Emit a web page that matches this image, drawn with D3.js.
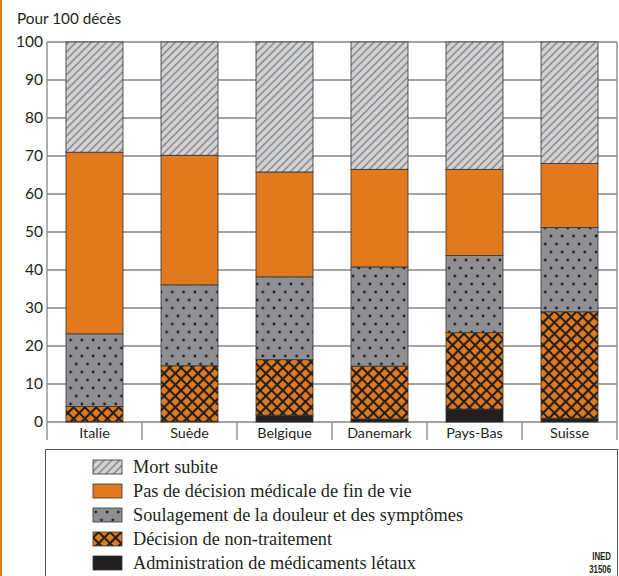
<!DOCTYPE html>
<html><head><meta charset="utf-8">
<script src="https://cdn.jsdelivr.net/npm/d3@7"></script>
<style>body{margin:0;background:#fff}svg{display:block}</style>
</head><body>
<svg id="c" width="619" height="576"></svg>
<script>
const countries = ["Italie","Suède","Belgique","Danemark","Pays-Bas","Suisse"];
const seriesNames = ["Administration de médicaments létaux","Décision de non-traitement","Soulagement de la douleur et des symptômes","Pas de décision médicale de fin de vie","Mort subite"];
const lethal   = [0.1, 0.2, 1.8, 0.8, 3.4, 1.0];
const nonTreat = [4.0, 14.6, 14.6, 13.9, 20.1, 28.0];
const painRelief = [19.1, 21.3, 21.8, 26.1, 20.3, 22.2];
const noDecision = [47.8, 34.1, 27.6, 25.7, 22.7, 16.8];
const sudden   = [29.0, 29.8, 34.2, 33.5, 33.5, 32.0];
const yTicks = [0,10,20,30,40,50,60,70,80,90,100];
const legendOrder = ["Mort subite","Pas de décision médicale de fin de vie","Soulagement de la douleur et des symptômes","Décision de non-traitement","Administration de médicaments létaux"];

const keys = ["lethal","nonTreat","painRelief","noDecision","sudden"];
const rows = countries.map((c,i)=>({country:c, lethal:lethal[i], nonTreat:nonTreat[i], painRelief:painRelief[i], noDecision:noDecision[i], sudden:sudden[i]}));
const keyByName = {}; seriesNames.forEach((n,i)=>keyByName[n]=keys[i]);

const svg = d3.select("#c");
const ORANGE = "#e07a1c", INK = "#231f20";
const defs = svg.append("defs");
// hatch
const ph = defs.append("pattern").attr("id","hatch").attr("patternUnits","userSpaceOnUse")
  .attr("width",5.4).attr("height",5.4).attr("patternTransform","rotate(45)");
ph.append("rect").attr("width",5.4).attr("height",5.4).attr("fill","#d2d3d5");
ph.append("line").attr("x1",2.7).attr("x2",2.7).attr("y1",0).attr("y2",5.4).attr("stroke","#3a3a3a").attr("stroke-width",0.75);
// dots
const pd = defs.append("pattern").attr("id","dots").attr("patternUnits","userSpaceOnUse")
  .attr("width",11.3).attr("height",16);
pd.append("rect").attr("width",11.3).attr("height",16).attr("fill","#8f9094");
pd.append("circle").attr("cx",2.8).attr("cy",4).attr("r",1.4).attr("fill",INK);
pd.append("circle").attr("cx",8.45).attr("cy",12).attr("r",1.4).attr("fill",INK);
// cross
const pc = defs.append("pattern").attr("id","cross").attr("patternUnits","userSpaceOnUse")
  .attr("width",8).attr("height",8).attr("patternTransform","rotate(45)");
pc.append("rect").attr("width",8).attr("height",8).attr("fill",ORANGE);
pc.append("path").attr("d","M4,0V8M0,4H8").attr("stroke",INK).attr("stroke-width",2.2);

const fills = {sudden:"url(#hatch)", noDecision:ORANGE, painRelief:"url(#dots)", nonTreat:"url(#cross)", lethal:INK};

// left orange strip
svg.append("rect").attr("x",0).attr("y",0).attr("width",2).attr("height",576).attr("fill",ORANGE);

const x = d3.scaleBand().domain(countries).range([47,617]).paddingInner(0.4).paddingOuter(0.2);
const xb = d3.scaleBand().domain(countries).range([47,617]);
const y = d3.scaleLinear().domain([0,100]).range([422,42]);

const font = "Lato, 'Open Sans', sans-serif";
// gridlines
svg.append("g").selectAll("line").data(yTicks).join("line")
  .attr("x1",47).attr("x2",617).attr("y1",d=>y(d)).attr("y2",d=>y(d))
  .attr("stroke","#858585").attr("stroke-width",1.3);
// y axis
const ya = svg.append("g").attr("transform","translate(47,0)")
  .call(d3.axisLeft(y).tickValues(yTicks).tickSize(0).tickPadding(4));
ya.select(".domain").remove();
ya.selectAll("text").attr("font-family",font).attr("font-size",15.5).attr("fill",INK);
// vertical frame lines / separators
const seps = [47].concat(countries.map(c=>xb(c)+xb.bandwidth()));
svg.append("g").selectAll("line").data(seps).join("line")
  .attr("x1",d=>d).attr("x2",d=>d).attr("y1",(d,i)=> (i===0||i===seps.length-1)?42:422).attr("y2",440)
  .attr("stroke","#858585").attr("stroke-width",1.3);
// x axis labels
const xa = svg.append("g").attr("transform","translate(0,422)")
  .call(d3.axisBottom(xb).tickSize(0).tickPadding(6));
xa.select(".domain").remove();
xa.selectAll("text").attr("font-family",font).attr("font-size",14.3).attr("fill",INK);

// stacked bars
const stack = d3.stack().keys(keys)(rows);
svg.append("g").selectAll("g").data(stack).join("g")
  .attr("fill",s=>fills[s.key])
  .selectAll("rect").data(s=>s).join("rect")
  .attr("x",d=>x(d.data.country)).attr("width",x.bandwidth())
  .attr("y",d=>y(d[1])).attr("height",d=>y(d[0])-y(d[1]))
  .attr("stroke","#333").attr("stroke-width",0.8);

// title
svg.append("text").attr("x",17).attr("y",24).attr("font-family",font).attr("font-size",15.3).attr("fill",INK).text("Pour 100 décès");

// legend
svg.append("rect").attr("x",45.5).attr("y",449.5).attr("width",572).attr("height",140)
  .attr("fill","none").attr("stroke","#555").attr("stroke-width",1);
const lg = svg.append("g").selectAll("g").data(legendOrder).join("g")
  .attr("transform",(d,i)=>`translate(93,${460+i*24})`);
lg.append("rect").attr("width",29).attr("height",14).attr("fill",d=>fills[keyByName[d]]).attr("stroke","#333").attr("stroke-width",0.8);
lg.append("text").attr("x",40).attr("y",13).attr("font-family","'Liberation Serif', serif").attr("font-size",18.3).attr("fill",INK).text(d=>d);

const ined = svg.append("g").attr("transform","translate(611,0) scale(0.75,1)");
ined.append("text").attr("x",0).attr("y",560).attr("text-anchor","end").attr("font-family","'Liberation Sans', sans-serif").attr("font-weight","bold").attr("font-size",10.5).attr("fill",INK).text("INED");
ined.append("text").attr("x",0).attr("y",573).attr("text-anchor","end").attr("font-family","'Liberation Sans', sans-serif").attr("font-weight","bold").attr("font-size",10.5).attr("fill",INK).text("31506");
</script>
</body></html>
